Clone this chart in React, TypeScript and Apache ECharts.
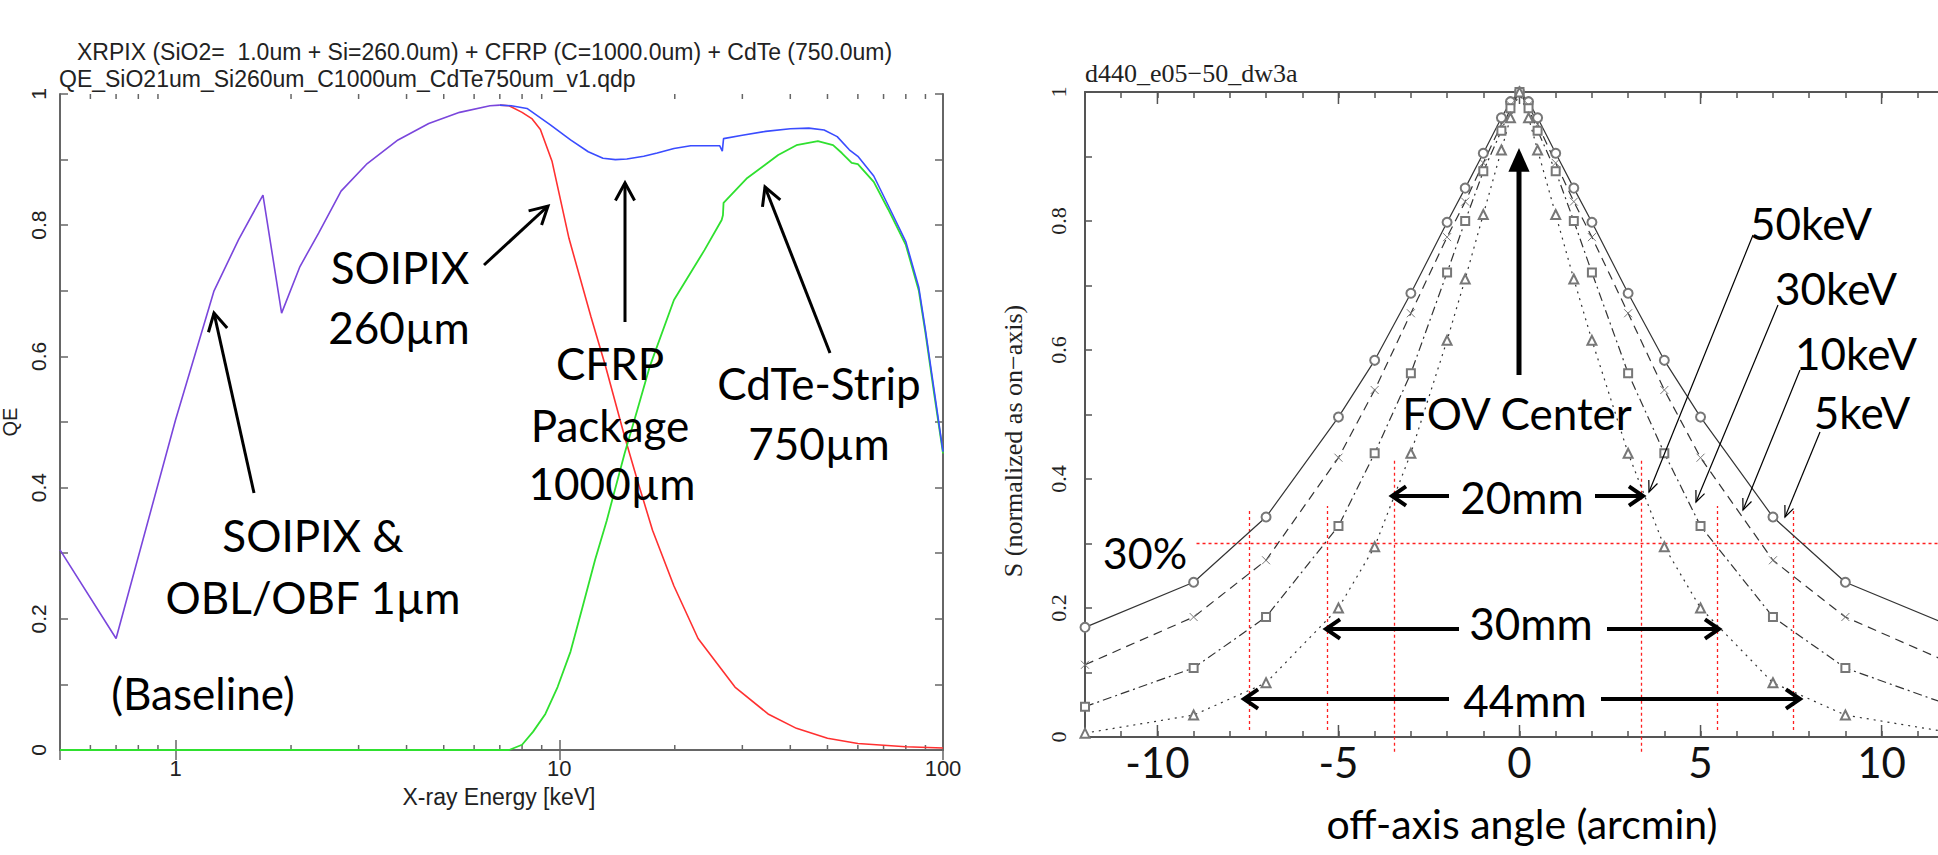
import React, { useEffect, useRef } from "react";
import * as echarts from "echarts";

// ---------- Left panel: quantum efficiency vs X-ray energy ----------
const lowEnergy = [0.5, 0.7, 1.0, 1.26, 1.46, 1.69, 1.89, 2.11, 2.36, 2.7, 3.16, 3.8, 4.57, 5.5, 6.6, 7.0];
const lowQE = [0.305, 0.17, 0.503, 0.7, 0.778, 0.846, 0.666, 0.737, 0.788, 0.852, 0.894, 0.93, 0.955, 0.972, 0.982, 0.983];

const siEnergy = [7.0, 7.4, 8.0, 8.5, 8.93, 9.58, 10.6, 12.1, 13.2, 14.8, 16, 17.5, 19.9, 23, 28.7, 35, 41.5, 50, 60, 80, 100];
const siQE = [0.983, 0.982, 0.972, 0.962, 0.946, 0.897, 0.78, 0.66, 0.585, 0.478, 0.41, 0.335, 0.25, 0.17, 0.096, 0.055, 0.033, 0.018, 0.01, 0.005, 0.003];

const totalEnergy = [7.0, 7.5, 8.24, 9.48, 10.7, 11.9, 13.0, 14, 15, 16.6, 18, 19.9, 22, 26.2, 26.6, 26.8, 30, 34.5, 40, 44.7, 49, 53, 57, 60, 66, 72, 80, 86.5, 90, 95, 100];
const totalQE = [0.983, 0.982, 0.978, 0.953, 0.93, 0.912, 0.902, 0.9, 0.901, 0.905, 0.91, 0.917, 0.921, 0.921, 0.913, 0.932, 0.937, 0.943, 0.947, 0.948, 0.945, 0.935, 0.915, 0.905, 0.875, 0.83, 0.775, 0.705, 0.64, 0.545, 0.455];

const cdteEnergy = [0.5, 7.4, 8.0, 8.55, 9.2, 9.9, 10.7, 11.5, 12.4, 13.3, 14.8, 16, 17.2, 19.9, 23.9, 26.5, 26.7, 26.8, 30.9, 37.2, 41.5, 47.2, 51.7, 54.5, 57.8, 60, 66, 72, 80, 86.5, 90, 95, 100];
const cdteQE = [0, 0, 0.008, 0.028, 0.055, 0.096, 0.15, 0.218, 0.29, 0.35, 0.452, 0.52, 0.584, 0.686, 0.762, 0.808, 0.815, 0.834, 0.872, 0.907, 0.922, 0.928, 0.922, 0.91, 0.895, 0.893, 0.866, 0.824, 0.77, 0.7, 0.636, 0.54, 0.452];

const logMinorTicks = [0.6, 0.7, 0.8, 0.9, 2, 3, 4, 5, 6, 7, 8, 9, 20, 30, 40, 50, 60, 70, 80, 90];

// ---------- Right panel: off-axis response ----------
const angles = [-12, -9, -7, -5, -4, -3, -2, -1.5, -1, -0.5, -0.25, 0, 0.25, 0.5, 1, 1.5, 2, 3, 4, 5, 7, 9, 12];
const resp5keV = [0.17, 0.24, 0.341, 0.496, 0.584, 0.688, 0.798, 0.851, 0.905, 0.96, 0.985, 1.0, 0.985, 0.96, 0.905, 0.851, 0.798, 0.688, 0.584, 0.496, 0.341, 0.24, 0.17];
const resp10keV = [0.112, 0.186, 0.274, 0.433, 0.538, 0.657, 0.775, 0.83, 0.89, 0.95, 0.98, 1.0, 0.98, 0.95, 0.89, 0.83, 0.775, 0.657, 0.538, 0.433, 0.274, 0.186, 0.112];
const resp30keV = [0.047, 0.107, 0.186, 0.327, 0.44, 0.564, 0.72, 0.8, 0.877, 0.94, 0.975, 1.0, 0.975, 0.94, 0.877, 0.8, 0.72, 0.564, 0.44, 0.327, 0.186, 0.107, 0.047];
const resp50keV = [0.006, 0.034, 0.084, 0.2, 0.295, 0.44, 0.615, 0.71, 0.81, 0.91, 0.96, 1.0, 0.96, 0.91, 0.81, 0.71, 0.615, 0.44, 0.295, 0.2, 0.084, 0.034, 0.006];

const fovLineX = [-7.45, -5.3, -3.45, 3.35, 5.45, 7.55];
const fovLineTop = [0.355, 0.358, 0.43, 0.43, 0.358, 0.355];
const fovLineBottom = [0.011, 0.011, -0.023, -0.023, 0.011, 0.011];
const thirtyPctLine = { y: 0.3, from: -8.92, to: 12 };
const rightMajorTicks = [-10, -5, 0, 5, 10];

const SANS = "'Liberation Sans', Arial, Helvetica, sans-serif";
const SERIF = "'Liberation Serif', 'Times New Roman', serif";
const GILL = "Lato, 'Open Sans', sans-serif";

const zip = (a: number[], b: number[]) => a.map((v, i) => [v, b[i]]);

function arrow(x1: number, y1: number, x2: number, y2: number, w: number, head: number, filled: boolean, spread = 0.5) {
  const ang = Math.atan2(y2 - y1, x2 - x1);
  const a1 = ang + Math.PI - spread;
  const a2 = ang + Math.PI + spread;
  const p1 = [x2 + head * Math.cos(a1), y2 + head * Math.sin(a1)];
  const p2 = [x2 + head * Math.cos(a2), y2 + head * Math.sin(a2)];
  const els: any[] = [];
  if (filled) {
    const bx = x2 - head * 0.85 * Math.cos(ang);
    const by = y2 - head * 0.85 * Math.sin(ang);
    els.push({ type: "line", z: 100, shape: { x1, y1, x2: bx, y2: by }, style: { stroke: "#000", lineWidth: w } });
    els.push({ type: "polygon", z: 100, shape: { points: [p1, [x2, y2], p2] }, style: { fill: "#000" } });
  } else {
    els.push({ type: "line", z: 100, shape: { x1, y1, x2, y2 }, style: { stroke: "#000", lineWidth: w } });
    els.push({ type: "polyline", z: 100, shape: { points: [p1, [x2, y2], p2] }, style: { stroke: "#000", lineWidth: w, fill: null, lineJoin: "miter" } });
  }
  return els;
}

function txt(text: string, x: number, y: number, size: number, family: string, align = "center", rotation = 0, color = "#000") {
  return {
    type: "text",
    z: 100,
    x,
    y,
    rotation,
    style: { text, fontSize: size, fontFamily: family, fill: color, align, verticalAlign: "middle" },
  };
}

const tenthFormatter = (v: number) => {
  const r = Math.round(v * 10);
  if (r % 2 !== 0) return "";
  return r === 0 ? "0" : r === 10 ? "1" : String(r / 10);
};

export default function App() {
  const ref = useRef<HTMLDivElement>(null);
  useEffect(() => {
    if (!ref.current) return;
    const chart = echarts.init(ref.current, null, { renderer: "svg" });

    const frameL = { color: "#666", width: 2 };
    const frameR = { color: "#555", width: 2 };

    const graphic: any[] = [
      // left panel texts
      txt("XRPIX (SiO2=\u00a0 1.0um + Si=260.0um) + CFRP (C=1000.0um) + CdTe (750.0um)", 77, 52, 23, SANS, "left", 0, "#222"),
      txt("QE_SiO21um_Si260um_C1000um_CdTe750um_v1.qdp", 59, 79, 23, SANS, "left", 0, "#222"),
      txt("X-ray Energy [keV]", 499, 797, 23, SANS, "center", 0, "#222"),
      txt("QE", 10, 422, 20, SANS, "center", Math.PI / 2, "#222"),
      txt("SOIPIX", 400, 267, 44, GILL),
      txt("260µm", 399, 327, 44, GILL),
      txt("CFRP", 610, 363, 44, GILL),
      txt("Package", 610, 425, 44, GILL),
      txt("1000µm", 612, 483, 44, GILL),
      txt("CdTe-Strip", 819, 383, 44, GILL),
      txt("750µm", 819, 443, 44, GILL),
      txt("SOIPIX &", 313, 535, 44, GILL),
      txt("OBL/OBF 1µm", 313, 597, 44, GILL),
      txt("(Baseline)", 203, 693, 44, GILL),
      ...arrow(484, 265, 548, 206, 3, 20, false),
      ...arrow(625, 322, 625, 183, 3, 20, false),
      ...arrow(830, 353, 765, 187, 3, 20, false),
      ...arrow(254, 493, 214, 313, 3, 20, false),
      // right panel texts
      txt("d440_e05\u221250_dw3a", 1085, 73, 26, SERIF, "left", 0, "#222"),
      txt("S (normalized as on\u2212axis)", 1013, 441, 26, SERIF, "center", Math.PI / 2, "#222"),
      txt("off-axis angle (arcmin)", 1522, 823, 41, GILL),
      txt("FOV Center", 1517, 413, 44, GILL),
      txt("50keV", 1811, 223, 44, GILL),
      txt("30keV", 1836, 288, 44, GILL),
      txt("10keV", 1856, 353, 44, GILL),
      txt("5keV", 1862, 412, 44, GILL),
      txt("20mm", 1522, 497, 44, GILL),
      txt("30mm", 1531, 623, 44, GILL),
      txt("44mm", 1525, 700, 44, GILL),
      txt("30%", 1145, 552, 43, GILL),
      ...arrow(1519, 375, 1519, 148, 5, 26, true, 0.42),
      ...arrow(1449, 496, 1392, 496, 4, 17, false, 0.6),
      ...arrow(1595, 496, 1643, 496, 4, 17, false, 0.6),
      ...arrow(1459, 629, 1326, 629, 4, 17, false, 0.6),
      ...arrow(1607, 629, 1719, 629, 4, 17, false, 0.6),
      ...arrow(1449, 699, 1244, 699, 4, 17, false, 0.6),
      ...arrow(1601, 699, 1800, 699, 4, 17, false, 0.6),
      ...arrow(1753, 235, 1649, 492, 1.2, 12, false, 0.4),
      ...arrow(1778, 305, 1696, 502, 1.2, 12, false, 0.4),
      ...arrow(1800, 370, 1743, 510, 1.2, 12, false, 0.4),
      ...arrow(1820, 432, 1785, 517, 1.2, 12, false, 0.4),
    ];

    const tickRender = (yLo: number, yHi: number, len: number, color: string) => (params: any, api: any) => {
      const v = api.value(0);
      const b = api.coord([v, yLo]);
      const t = api.coord([v, yHi]);
      return {
        type: "group",
        children: [
          { type: "line", shape: { x1: b[0], y1: b[1], x2: b[0], y2: b[1] - len }, style: { stroke: color, lineWidth: 1.5 } },
          { type: "line", shape: { x1: t[0], y1: t[1], x2: t[0], y2: t[1] + len }, style: { stroke: color, lineWidth: 1.5 } },
        ],
      };
    };

    const psfSeries = (name: string, data: number[], dash: any, symbol: string, size: number) => ({
      name,
      type: "line",
      xAxisIndex: 2,
      yAxisIndex: 2,
      data: zip(angles, data),
      showSymbol: true,
      symbol,
      symbolSize: size,
      clip: false,
      lineStyle: { color: "#333", width: 1.2, type: dash },
      itemStyle: symbol.startsWith("path://")
        ? { color: "rgba(0,0,0,0)", borderColor: "#777", borderWidth: 1 }
        : { color: "#777", borderWidth: 1 },
      z: 3,
    });

    chart.setOption({
      animation: false,
      grid: [
        { left: 60, top: 94, width: 883, height: 656, containLabel: false, outerBoundsMode: "none" },
        { left: 1085, top: 92, width: 869, height: 645, containLabel: false, outerBoundsMode: "none" },
      ],
      xAxis: [
        {
          gridIndex: 0, type: "log", logBase: 10, min: 0.5, max: 100, position: "bottom",
          axisLine: { show: true, lineStyle: frameL },
          axisTick: { show: true, inside: true, length: 10, lineStyle: { color: "#666", width: 1.5 } },
          axisLabel: { show: true, showMinLabel: false, margin: 7, fontFamily: SANS, fontSize: 22, color: "#222" },
          splitLine: { show: false },
        },
        {
          gridIndex: 0, type: "log", logBase: 10, min: 0.5, max: 100, position: "top",
          axisLine: { show: true, lineStyle: frameL },
          axisTick: { show: true, inside: true, length: 10, lineStyle: { color: "#666", width: 1.5 } },
          axisLabel: { show: false },
          splitLine: { show: false },
        },
        {
          gridIndex: 1, type: "value", min: -12, max: 12, interval: 1, position: "bottom",
          axisLine: { show: true, onZero: false, lineStyle: frameR },
          axisTick: { show: true, inside: true, length: 6, lineStyle: { color: "#555", width: 1.5 } },
          axisLabel: {
            show: true, interval: 0, margin: 4, fontFamily: GILL, fontSize: 42, color: "#111",
            formatter: (v: number) => (Math.round(v) % 5 === 0 ? String(Math.round(v)) : ""),
          },
          splitLine: { show: false },
        },
        {
          gridIndex: 1, type: "value", min: -12, max: 12, interval: 1, position: "top",
          axisLine: { show: true, onZero: false, lineStyle: frameR },
          axisTick: { show: true, inside: true, length: 6, lineStyle: { color: "#555", width: 1.5 } },
          axisLabel: { show: false },
          splitLine: { show: false },
        },
      ],
      yAxis: [
        {
          gridIndex: 0, type: "value", min: 0, max: 1, interval: 0.1, position: "left",
          axisLine: { show: true, lineStyle: frameL },
          axisTick: { show: true, inside: true, length: 8, lineStyle: { color: "#666", width: 1.5 } },
          axisLabel: { show: true, rotate: 90, margin: 11, fontFamily: SANS, fontSize: 21, color: "#222", formatter: tenthFormatter },
          splitLine: { show: false },
        },
        {
          gridIndex: 0, type: "value", min: 0, max: 1, interval: 0.1, position: "right",
          axisLine: { show: true, lineStyle: frameL },
          axisTick: { show: true, inside: true, length: 8, lineStyle: { color: "#666", width: 1.5 } },
          axisLabel: { show: false },
          splitLine: { show: false },
        },
        {
          gridIndex: 1, type: "value", min: 0, max: 1, interval: 0.1, position: "left",
          axisLine: { show: true, onZero: false, lineStyle: frameR },
          axisTick: { show: true, inside: true, length: 7, lineStyle: { color: "#555", width: 1.5 } },
          axisLabel: { show: true, rotate: 90, margin: 16, fontFamily: SERIF, fontSize: 22, color: "#222", formatter: tenthFormatter },
          splitLine: { show: false },
        },
      ],
      graphic,
      series: [
        {
          type: "custom", xAxisIndex: 0, yAxisIndex: 0, clip: false, silent: true,
          data: logMinorTicks.map((v) => [v, 0]),
          renderItem: tickRender(0, 1, 5, "#666"),
          z: 1,
        },
        {
          type: "custom", xAxisIndex: 2, yAxisIndex: 2, clip: false, silent: true,
          data: rightMajorTicks.map((v) => [v, 0]),
          renderItem: tickRender(0, 1, 12, "#555"),
          z: 1,
        },
        {
          name: "SOIPIX+CdTe (low E)", type: "line", xAxisIndex: 0, yAxisIndex: 0,
          data: zip(lowEnergy, lowQE), showSymbol: false, clip: false,
          lineStyle: { color: "#7a46dc", width: 1.6 }, z: 4,
        },
        {
          name: "SOIPIX 260um", type: "line", xAxisIndex: 0, yAxisIndex: 0,
          data: zip(siEnergy, siQE), showSymbol: false, clip: false,
          lineStyle: { color: "#ff3030", width: 1.6 }, z: 3,
        },
        {
          name: "CdTe 750um", type: "line", xAxisIndex: 0, yAxisIndex: 0,
          data: zip(cdteEnergy, cdteQE), showSymbol: false, clip: false,
          lineStyle: { color: "#2fe02f", width: 1.8 }, z: 3,
        },
        {
          name: "Total", type: "line", xAxisIndex: 0, yAxisIndex: 0,
          data: zip(totalEnergy, totalQE), showSymbol: false, clip: false,
          lineStyle: { color: "#3a4cff", width: 1.6 }, z: 4,
        },
        psfSeries("5keV", resp5keV, "solid", "emptyCircle", 9),
        psfSeries("10keV", resp10keV, [9, 6], "path://M0,0L10,10M10,0L0,10", 8),
        psfSeries("30keV", resp30keV, [9, 4, 2, 4], "emptyRect", 8),
        psfSeries("50keV", resp50keV, [2, 5], "emptyTriangle", 9),
        {
          name: "FOV lines", type: "lines", coordinateSystem: "cartesian2d", xAxisIndex: 2, yAxisIndex: 2,
          clip: false, silent: true,
          data: fovLineX.map((x, i) => ({ coords: [[x, fovLineBottom[i]], [x, fovLineTop[i]]] })),
          lineStyle: { color: "#ff2020", width: 1.3, type: [3, 3], opacity: 1 },
          z: 2,
        },
        {
          name: "30% line", type: "lines", coordinateSystem: "cartesian2d", xAxisIndex: 2, yAxisIndex: 2,
          clip: false, silent: true,
          data: [{ coords: [[thirtyPctLine.from, thirtyPctLine.y], [thirtyPctLine.to, thirtyPctLine.y]] }],
          lineStyle: { color: "#ff2020", width: 1.3, type: [3, 3], opacity: 1 },
          z: 2,
        },
      ],
    });

    return () => chart.dispose();
  }, []);

  return <div ref={ref} style={{ position: "absolute", left: 0, top: 0, width: 1938, height: 855, background: "#fff" }} />;
}
